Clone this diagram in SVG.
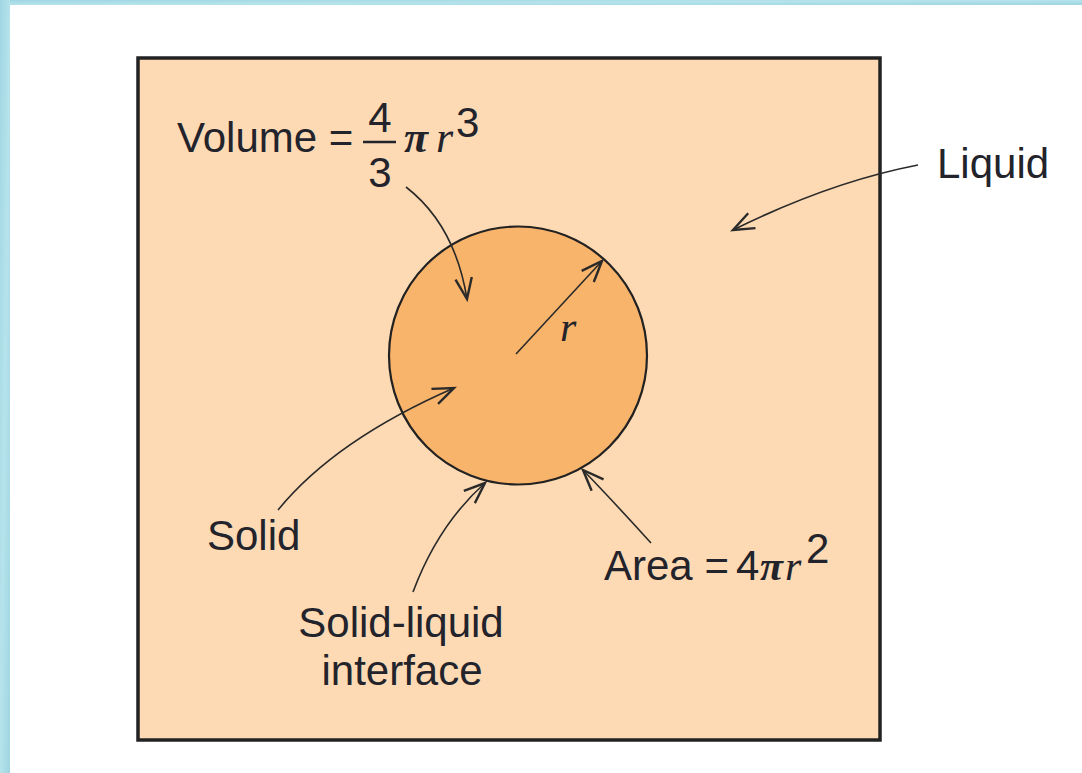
<svg xmlns="http://www.w3.org/2000/svg" width="1082" height="773" viewBox="0 0 1082 773">
<defs>
<linearGradient id="cy" x1="0" y1="0" x2="1" y2="1">
<stop offset="0" stop-color="#9fd6e2"/><stop offset="0.5" stop-color="#b6e3ec"/><stop offset="1" stop-color="#9ed5e1"/>
</linearGradient>
<marker id="ah" markerUnits="userSpaceOnUse" markerWidth="30" markerHeight="30" viewBox="-16 -8 20 16" refX="0" refY="0" orient="auto">
<path d="M-14,-5.5 L0,0 L-14,5.5" fill="none" stroke="#2a2a2a" stroke-width="1.6"/>
</marker>
<style>
.lbl{font-family:"Liberation Sans",Arial,sans-serif;font-size:42px;fill:#23232c}
.m{font-family:"Liberation Serif","Times New Roman",serif;font-style:italic;fill:#23232c}
.con{fill:none;stroke:#2a2a2a;stroke-width:1.6;marker-end:url(#ah)}
</style>
</defs>
<rect x="0" y="0" width="1082" height="773" fill="#ffffff"/>
<rect x="0" y="0" width="1082" height="5" fill="url(#cy)"/>
<rect x="0" y="0" width="10" height="773" fill="url(#cy)"/>
<g id="liquid">
<rect x="138" y="58" width="742" height="682" fill="#fddab3" stroke="#222" stroke-width="3.5"/>
</g>
<g id="solid">
<circle cx="518" cy="355.5" r="129" fill="#f9b46b" stroke="#222" stroke-width="2.2"/>
</g>
<g id="connectors">
<line x1="516" y1="354" x2="602" y2="261" class="con"/>
<path d="M406,187 Q455,225 467,299" class="con"/>
<path d="M278,510 Q335,440 454,388" class="con"/>
<path d="M413,592 Q438,525 485,483" class="con"/>
<path d="M651,543 Q612,500 583,470" class="con"/>
<path d="M918,165 Q830,182 733,230" class="con"/>
</g>
<g id="label-r">
<text x="560" y="341" class="m" font-size="42">r</text>
</g>
<g id="label-volume">
<text x="177" y="152" class="lbl" font-size="40">Volume =</text>
<text x="380" y="132" class="lbl" font-size="38" text-anchor="middle">4</text>
<line x1="363" y1="142" x2="396" y2="142" stroke="#23232c" stroke-width="2.5"/>
<text x="380" y="187" class="lbl" font-size="38" text-anchor="middle">3</text>
<text x="404" y="152" class="m" font-size="44" font-weight="bold">π</text>
<text x="436" y="152" class="m" font-size="44">r</text>
<text x="456" y="137" class="lbl" font-size="36">3</text>
</g>
<g id="label-liquid">
<text x="937" y="178" class="lbl">Liquid</text>
</g>
<g id="label-solid">
<text x="207" y="550" class="lbl">Solid</text>
</g>
<g id="label-interface">
<text x="401" y="637" class="lbl" text-anchor="middle">Solid-liquid</text>
<text x="402" y="685" class="lbl" text-anchor="middle">interface</text>
</g>
<g id="label-area">
<text x="604" y="580" class="lbl" font-size="40">Area =</text>
<text x="736" y="580" class="lbl" font-size="40">4</text>
<text x="760" y="580" class="m" font-size="42" font-weight="bold">π</text>
<text x="785" y="580" class="m" font-size="42">r</text>
<text x="806" y="563" class="lbl" font-size="34">2</text>
</g>
</svg>
